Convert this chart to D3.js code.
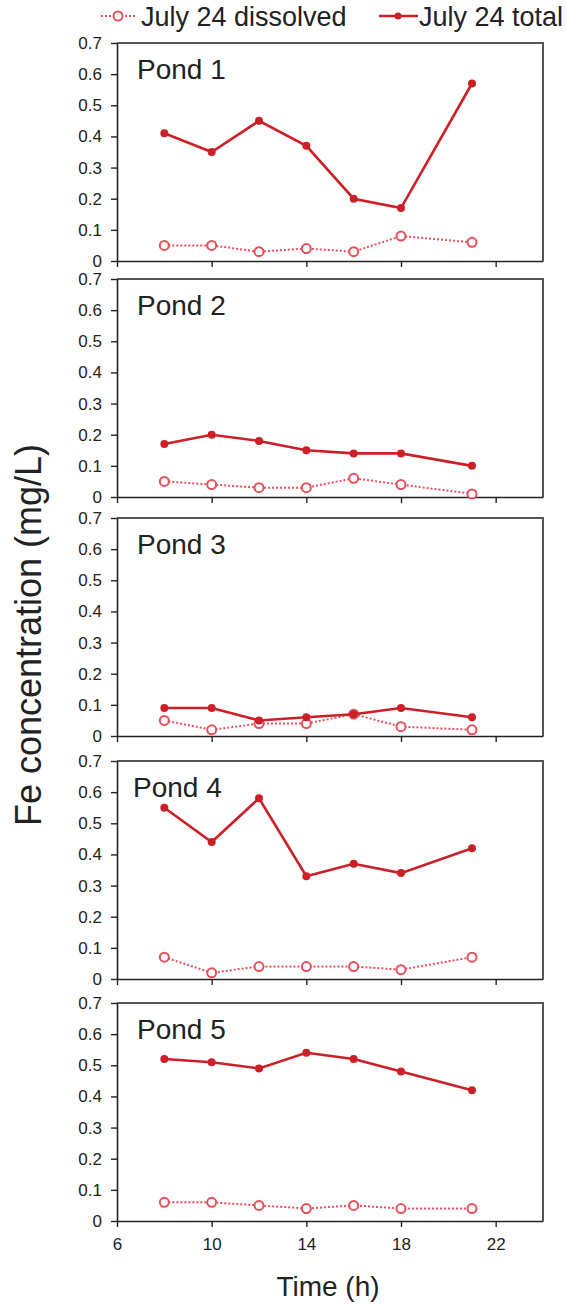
<!DOCTYPE html>
<html lang="en">
<head>
<meta charset="UTF-8">
<title>Fe concentration</title>
<script src="https://d3js.org/d3.v7.min.js"></script>
<style>
  body { margin: 0; background: #fff; }
  svg text { font-family: "Liberation Sans", Arial, sans-serif; fill: #222; }
</style>
</head>
<body>
<div id="chart"></div>
<script>
// data
var hours = [8, 10, 12, 14, 16, 18, 21];
var ponds = ["Pond 1", "Pond 2", "Pond 3", "Pond 4", "Pond 5"];
var totalFe = [
  [0.41, 0.35, 0.45, 0.37, 0.20, 0.17, 0.57],
  [0.17, 0.20, 0.18, 0.15, 0.14, 0.14, 0.10],
  [0.09, 0.09, 0.05, 0.06, 0.07, 0.09, 0.06],
  [0.55, 0.44, 0.58, 0.33, 0.37, 0.34, 0.42],
  [0.52, 0.51, 0.49, 0.54, 0.52, 0.48, 0.42]
];
var dissolvedFe = [
  [0.05, 0.05, 0.03, 0.04, 0.03, 0.08, 0.06],
  [0.05, 0.04, 0.03, 0.03, 0.06, 0.04, 0.01],
  [0.05, 0.02, 0.04, 0.04, 0.07, 0.03, 0.02],
  [0.07, 0.02, 0.04, 0.04, 0.04, 0.03, 0.07],
  [0.06, 0.06, 0.05, 0.04, 0.05, 0.04, 0.04]
];
var xTicks = [6, 10, 14, 18, 22];
var yTicks = [0, 0.1, 0.2, 0.3, 0.4, 0.5, 0.6, 0.7];
var seriesNames = ["July 24 dissolved", "July 24 total"];

var W = 567, H = 1306;
var left = 117, right = 543;
var panelTops = [43, 279, 518, 761, 1003];
var panelH = 218;

var totalColor = "#cc1f27";
var dissColor = "#e5505a";

var svg = d3.select("#chart").append("svg")
  .attr("width", W).attr("height", H);

var x = d3.scaleLinear().domain([6, 24]).range([left, right]);

ponds.forEach(function(name, p) {
  var top = panelTops[p];
  var y = d3.scaleLinear().domain([0, 0.7]).range([top + panelH, top]);
  var g = svg.append("g");

  // box (top and right)
  g.append("path")
    .attr("d", "M" + left + "," + top + "H" + right + "V" + (top + panelH))
    .attr("fill", "none").attr("stroke", "#555").attr("stroke-width", 2);

  var yAxis = d3.axisLeft(y).tickValues(yTicks).tickSize(6).tickPadding(9)
    .tickSizeOuter(0)
    .tickFormat(function(d) { return d === 0 ? "0" : d3.format(".1f")(d); });
  var ya = g.append("g").attr("transform", "translate(" + left + ",0)").call(yAxis);

  var xAxis = d3.axisBottom(x).tickValues(xTicks).tickSize(6).tickPadding(11)
    .tickSizeOuter(0);
  var xa = g.append("g").attr("transform", "translate(0," + (top + panelH) + ")").call(xAxis);
  if (p < ponds.length - 1) xa.selectAll("text").remove();

  [ya, xa].forEach(function(a) {
    a.select(".domain").attr("stroke", "#222").attr("stroke-width", 1.6);
    a.selectAll(".tick line").attr("stroke", "#222").attr("stroke-width", 1.4);
    a.selectAll("text").attr("font-size", 17).attr("fill", "#222")
      .attr("font-family", "Liberation Sans, Arial, sans-serif");
  });

  g.append("text")
    .attr("x", p === 3 ? 133 : 137).attr("y", top + 36)
    .attr("font-size", 28)
    .text(name);

  var line = d3.line()
    .x(function(d, i) { return x(hours[i]); })
    .y(function(d) { return y(d); });

  // dissolved: dotted with open circles
  g.append("path").datum(dissolvedFe[p])
    .attr("d", line).attr("fill", "none")
    .attr("stroke", dissColor).attr("stroke-width", 2)
    .attr("stroke-dasharray", "2,2");
  g.selectAll(".dc").data(dissolvedFe[p]).enter().append("circle")
    .attr("cx", function(d, i) { return x(hours[i]); })
    .attr("cy", function(d) { return y(d); })
    .attr("r", 4.5).attr("fill", "#fff")
    .attr("stroke", dissColor).attr("stroke-width", 2);

  // total: solid with filled dots
  g.append("path").datum(totalFe[p])
    .attr("d", line).attr("fill", "none")
    .attr("stroke", totalColor).attr("stroke-width", 2.6);
  g.selectAll(".tc").data(totalFe[p]).enter().append("circle")
    .attr("cx", function(d, i) { return x(hours[i]); })
    .attr("cy", function(d) { return y(d); })
    .attr("r", 4).attr("fill", totalColor);
});

// legend
var lg = svg.append("g");
lg.append("line").attr("x1", 101).attr("x2", 136).attr("y1", 16).attr("y2", 16)
  .attr("stroke", dissColor).attr("stroke-width", 2).attr("stroke-dasharray", "2,2");
lg.append("circle").attr("cx", 118).attr("cy", 16).attr("r", 4.5)
  .attr("fill", "#fff").attr("stroke", dissColor).attr("stroke-width", 2);
lg.append("text").attr("x", 141).attr("y", 26).attr("font-size", 27).text(seriesNames[0]);
lg.append("line").attr("x1", 379).attr("x2", 418).attr("y1", 16).attr("y2", 16)
  .attr("stroke", totalColor).attr("stroke-width", 2.6);
lg.append("circle").attr("cx", 398).attr("cy", 16).attr("r", 3.5).attr("fill", totalColor);
lg.append("text").attr("x", 419).attr("y", 26).attr("font-size", 27).text(seriesNames[1]);

// axis titles
svg.append("text")
  .attr("transform", "translate(41,635) rotate(-90)")
  .attr("text-anchor", "middle").attr("font-size", 36)
  .text("Fe concentration (mg/L)");
svg.append("text")
  .attr("x", 328).attr("y", 1296)
  .attr("text-anchor", "middle").attr("font-size", 28)
  .text("Time (h)");
</script>
</body>
</html>
